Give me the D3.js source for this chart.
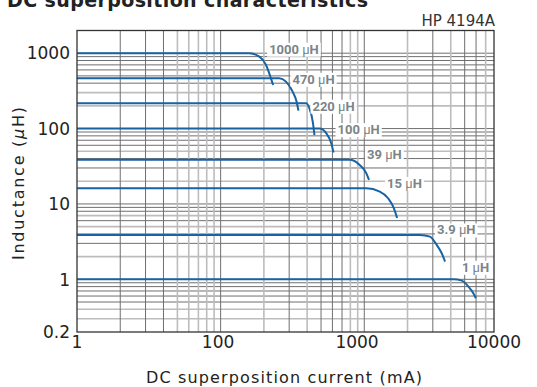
<!DOCTYPE html>
<html>
<head>
<meta charset="utf-8">
<script src="https://cdn.jsdelivr.net/npm/d3@7/dist/d3.min.js"></script>
<style>
  html, body { margin: 0; padding: 0; background: #fff; }
  svg { display: block; }
</style>
</head>
<body>
<svg id="chart" width="537" height="387"></svg>
<script>
// ---- data ----
const titleText = "DC superposition characteristics";
const instrumentText = "HP 4194A";
const xTitle = "DC superposition current (mA)";
const xTickValues = [10, 96, 890, 8000];
const xTickLabels = ["1", "100", "1000", "10000"];
const yTickValues = [1000, 100, 10, 1, 0.2];
const yTickLabels = ["1000", "100", "10", "1", "0.2"];
const seriesLabels = ["1000", "470", "220", "100", "39", "15", "3.9", "1"];

const cur1000 = [10, 158, 186, 207, 224, 232];
const ind1000 = [1000, 1000, 899, 698, 464, 378];
const cur470 = [10, 256, 285, 317, 338, 348];
const ind470 = [465, 465, 419, 309, 227, 173];
const cur220 = [10, 394, 415, 438, 450];
const ind220 = [217, 217, 186, 123, 82];
const cur100 = [10, 488, 543, 589, 611];
const ind100 = [100, 100, 87, 64, 48];
const cur39 = [10, 791, 929, 1034, 1079];
const ind39 = [38.5, 38.5, 32.9, 25.5, 20.8];
const cur15 = [10, 1034, 1282, 1465, 1606, 1693];
const ind15 = [16.1, 16.1, 14.6, 11.9, 8.8, 6.5];
const cur3_9 = [10, 2440, 2867, 3193, 3461, 3650];
const ind3_9 = [3.88, 3.88, 3.68, 2.86, 2.22, 1.72];
const cur1 = [10, 4172, 4775, 5311, 5757, 5984];
const ind1 = [1.0, 1.0, 0.96, 0.80, 0.65, 0.56];

const seriesCurrents = [cur1000, cur470, cur220, cur100, cur39, cur15, cur3_9, cur1];
const seriesInductances = [ind1000, ind470, ind220, ind100, ind39, ind15, ind3_9, ind1];

// ---- styling (pixel offsets of labels from each curve's end / level) ----
const labelOffsets = [[-4, -4], [-6, 1], [-2, 3], [4, 1], [-2, -5], [-10, -5], [-8, -5], [-14, -12]];
const vLight = [50, 60, 70, 80, 90, 200, 400, 800, 900, 2000, 4000, 7000];
const hLight = [0.3, 0.4, 2, 5, 7, 20, 50, 200, 300];

const svg = d3.select("#chart");
const L = 77, R = 494, T = 30.5, B = 332;
const x = d3.scaleLog().domain([10, 8000]).range([L, R]);
const y = d3.scaleLog().domain([0.2, 2000]).range([B, T]);

const near = (a, b) => Math.abs(Math.log10(a) - Math.log10(b)) < 1e-6;

// grid values
const vGrid = [];
[10, 100, 1000].forEach(k => d3.range(1, 10).forEach(m => {
  const v = m * k;
  if (v > 10 && v < 8000) vGrid.push(v);
}));
const hGrid = [];
[0.1, 1, 10, 100].forEach(k => d3.range(1, 10).forEach(m => {
  const v = +(m * k).toPrecision(6);
  if (v > 0.2) hGrid.push(v);
}));
hGrid.push(1000);

const isLight = (arr, v) => arr.some(a => near(a, v));
const gGrid = svg.append("g");
gGrid.selectAll("line.h").data(hGrid).join("line")
  .attr("x1", L).attr("x2", R)
  .attr("y1", d => y(d)).attr("y2", d => y(d))
  .attr("stroke", d => isLight(hLight, d) ? "#bdbdbd" : "#6f6f6f")
  .attr("stroke-width", d => isLight(hLight, d) ? 1.6 : 1);
gGrid.selectAll("line.v").data(vGrid).join("line")
  .attr("y1", T).attr("y2", B)
  .attr("x1", d => x(d)).attr("x2", d => x(d))
  .attr("stroke", d => isLight(vLight, d) ? "#bdbdbd" : "#6f6f6f")
  .attr("stroke-width", d => isLight(vLight, d) ? 1.6 : 1);

// curves
const line = d3.line().x(d => x(d[0])).y(d => y(d[1])).curve(d3.curveMonotoneX);
const series = seriesCurrents.map((cs, i) => cs.map((c, j) => [c, seriesInductances[i][j]]));
svg.append("g").selectAll("path").data(series).join("path")
  .attr("d", line)
  .attr("fill", "none")
  .attr("stroke", "#1763a3")
  .attr("stroke-width", 2);

// border
svg.append("rect").attr("x", L).attr("y", T).attr("width", R - L).attr("height", B - T)
  .attr("fill", "none").attr("stroke", "#333").attr("stroke-width", 1.3);

// series labels
const gLab = svg.append("g");
series.forEach((pts, i) => {
  const end = pts[pts.length - 1];
  const lx = x(end[0]) + labelOffsets[i][0];
  const ly = y(pts[0][1]) + labelOffsets[i][1];
  const g = gLab.append("g");
  const t = g.append("text")
    .attr("x", lx).attr("y", ly).attr("dy", "0.35em")
    .attr("font-family", "Roboto, 'DejaVu Sans', sans-serif")
    .attr("font-size", 13).attr("font-weight", "bold")
    .attr("fill", "#7b8487");
  t.append("tspan").text(seriesLabels[i] + " ");
  t.append("tspan").attr("font-weight", "normal").text("μ");
  t.append("tspan").text("H");
  const bb = t.node().getBBox();
  g.insert("rect", "text")
    .attr("x", bb.x - 2).attr("y", bb.y + 1).attr("width", bb.width + 4).attr("height", bb.height - 1)
    .attr("fill", "#fff");
});

// axes tick labels
const tickFont = "'DejaVu Sans', sans-serif";
svg.append("g").selectAll("text").data(xTickValues).join("text")
  .attr("x", d => x(d)).attr("y", 348)
  .attr("text-anchor", "middle")
  .attr("font-family", tickFont).attr("font-size", 17).attr("fill", "#222")
  .text((d, i) => xTickLabels[i]);
svg.append("g").selectAll("text").data(yTickValues).join("text")
  .attr("x", 70).attr("y", d => y(d)).attr("dy", "0.37em")
  .attr("text-anchor", "end")
  .attr("font-family", tickFont).attr("font-size", 17).attr("fill", "#222")
  .text((d, i) => yTickLabels[i]);

// axis titles
svg.append("text").attr("x", 284).attr("y", 383).attr("text-anchor", "middle")
  .attr("font-family", tickFont).attr("font-size", 16).attr("fill", "#222")
  .attr("textLength", 276).attr("lengthAdjust", "spacing")
  .text(xTitle);
const yt = svg.append("text")
  .attr("transform", "translate(24,183.5) rotate(-90)")
  .attr("text-anchor", "middle")
  .attr("font-family", tickFont).attr("font-size", 16).attr("fill", "#222")
  .attr("textLength", 153).attr("lengthAdjust", "spacing");
yt.append("tspan").text("Inductance (");
yt.append("tspan").attr("font-style", "italic").text("μ");
yt.append("tspan").text("H)");

// title and instrument note
svg.append("text").attr("x", 7).attr("y", 7)
  .attr("font-family", tickFont).attr("font-size", 19).attr("font-weight", "bold").attr("fill", "#222")
  .attr("textLength", 361).attr("lengthAdjust", "spacing")
  .text(titleText);
svg.append("text").attr("x", 495).attr("y", 26).attr("text-anchor", "end")
  .attr("font-family", tickFont).attr("font-size", 15).attr("fill", "#333")
  .text(instrumentText);
</script>
</body>
</html>
